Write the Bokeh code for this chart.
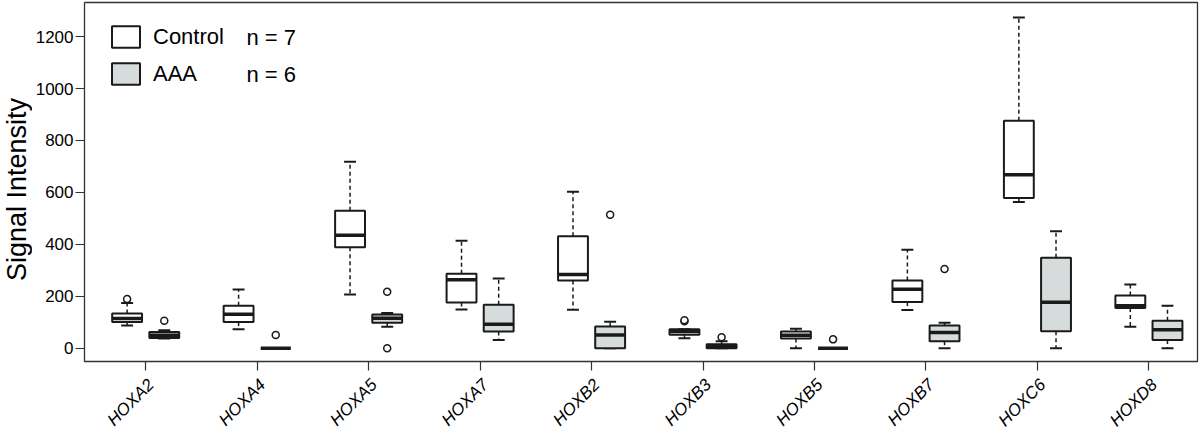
import math
from bokeh.plotting import figure
from bokeh.layouts import row, column
from bokeh.models import (FixedTicker, Range1d, Legend, LegendItem, Label, ColumnDataSource)
from bokeh.core.properties import value
from bokeh.embed import file_html
from bokeh.resources import INLINE

genes = ["HOXA2", "HOXA4", "HOXA5", "HOXA7", "HOXB2", "HOXB3", "HOXB5", "HOXB7", "HOXC6", "HOXD8"]

# Control group (n = 7): lower whisker, Q1, median, Q3, upper whisker
ctrl_low = [87, 73, 207, 149, 148, 38, 0, 147, 563, 83]
ctrl_q1 = [101, 101, 389, 176, 261, 52, 37, 178, 578, 155]
ctrl_med = [114, 131, 435, 264, 284, 64, 50, 227, 668, 163]
ctrl_q3 = [134, 163, 529, 287, 431, 73, 64, 261, 876, 203]
ctrl_high = [174, 226, 718, 414, 602, 73, 75, 379, 1273, 245]

# AAA group (n = 6)
aaa_low = [37, 0, 83, 32, 0, 0, 0, 0, 0, 0]
aaa_q1 = [39, 0, 98, 64, 0, 0, 0, 27, 65, 32]
aaa_med = [50, 0, 115, 92, 51, 8, 0, 60, 177, 71]
aaa_q3 = [62, 0, 130, 167, 84, 15, 0, 87, 348, 106]
aaa_high = [69, 0, 136, 268, 102, 27, 0, 98, 450, 163]

# Outliers
ctrl_out_gene = ["HOXA2", "HOXB3", "HOXB3"]
ctrl_out_val = [189, 104, 108]
aaa_out_gene = ["HOXA2", "HOXA4", "HOXA5", "HOXA5", "HOXB2", "HOXB3", "HOXB5", "HOXB7"]
aaa_out_val = [106, 51, 217, 0, 514, 42, 34, 305]

y_ticks = [0, 200, 400, 600, 800, 1000, 1200]

LINE = "#1a1a1a"
FONT = "Liberation Sans"
BOX_W = 0.268
CAP_W = 0.107
OFFSET = 1.0 / 6.0

TOTAL_W, TOTAL_H = 1200, 430
YLAB_W = 32
MAIN_W = TOTAL_W - YLAB_W
LEFT, RIGHT = 49, 3
TOP, FRAME_H, BOTTOM = 2, 359, 12
MAIN_H = TOP + FRAME_H + BOTTOM
XLAB_H = TOTAL_H - MAIN_H

p = figure(width=MAIN_W, height=MAIN_H, output_backend="svg", toolbar_location=None,
           x_range=Range1d(-0.549, 9.436), y_range=Range1d(-51.2, 1331.2),
           min_border_left=LEFT, min_border_right=RIGHT, min_border_top=TOP,
           min_border_bottom=BOTTOM)
p.xgrid.visible = False
p.ygrid.visible = False
p.outline_line_color = "#333333"
p.outline_line_width = 1.3


def draw_group(sign, low, q1, med, q3, high, fill):
    xs = [i + sign * OFFSET for i in range(len(genes))]
    src = ColumnDataSource(dict(x=xs, low=low, q1=q1, med=med, q3=q3, high=high,
                                xl=[x - BOX_W / 2 for x in xs], xr=[x + BOX_W / 2 for x in xs],
                                cl=[x - CAP_W / 2 for x in xs], cr=[x + CAP_W / 2 for x in xs]))
    p.segment(x0="x", y0="q3", x1="x", y1="high", source=src, line_color=LINE,
              line_width=1.5, line_dash="4 3")
    p.segment(x0="x", y0="q1", x1="x", y1="low", source=src, line_color=LINE,
              line_width=1.5, line_dash="4 3")
    p.segment(x0="cl", y0="high", x1="cr", y1="high", source=src, line_color=LINE, line_width=2)
    p.segment(x0="cl", y0="low", x1="cr", y1="low", source=src, line_color=LINE, line_width=2)
    r = p.quad(left="xl", right="xr", bottom="q1", top="q3", source=src,
               fill_color=fill, line_color=LINE, line_width=2)
    p.segment(x0="xl", y0="med", x1="xr", y1="med", source=src, line_color=LINE, line_width=3.5)
    return r


r_ctrl = draw_group(-1, ctrl_low, ctrl_q1, ctrl_med, ctrl_q3, ctrl_high, "white")
r_aaa = draw_group(1, aaa_low, aaa_q1, aaa_med, aaa_q3, aaa_high, "#d5dcdb")

p.scatter(x=[genes.index(g) - OFFSET for g in ctrl_out_gene], y=ctrl_out_val,
          marker="circle", size=7, fill_color="white", line_color=LINE, line_width=1.5)
p.scatter(x=[genes.index(g) + OFFSET for g in aaa_out_gene], y=aaa_out_val,
          marker="circle", size=7, fill_color="white", line_color=LINE, line_width=1.5)

# axes
p.xaxis.ticker = FixedTicker(ticks=list(range(len(genes))))
p.xaxis.major_label_overrides = {i: "" for i in range(len(genes))}
p.xaxis.major_label_standoff = 0
p.xaxis.axis_label_standoff = 0

p.yaxis.ticker = FixedTicker(ticks=y_ticks)
p.yaxis.major_label_text_font = FONT
p.yaxis.major_label_text_font_size = "17px"
p.yaxis.major_label_standoff = 2

for ax in (p.xaxis, p.yaxis):
    ax.axis_line_color = None
    ax.major_tick_out = 9
    ax.major_tick_in = 0
    ax.minor_tick_line_color = None
    ax.major_tick_line_color = "#333333"
    ax.major_tick_line_width = 1.2
    ax.major_label_text_color = "black"

# legend
legend = Legend(items=[LegendItem(label="Control", renderers=[r_ctrl]),
                       LegendItem(label="AAA", renderers=[r_aaa])],
                location=(24, FRAME_H - 21 - 64), orientation="vertical",
                glyph_width=35, glyph_height=27, spacing=10, padding=0, margin=0,
                label_standoff=10, label_text_font=FONT, label_text_font_size="22px",
                label_text_color="black", border_line_alpha=0, background_fill_alpha=0,
                label_height=27)
p.add_layout(legend)

for txt, yc in (("n = 7", FRAME_H - 21 - 13.5), ("n = 6", FRAME_H - 21 - 27 - 10 - 13.5)):
    p.add_layout(Label(x=162, y=yc, x_units="screen", y_units="screen", text=txt,
                       text_font=FONT, text_font_size="22px", text_baseline="middle",
                       text_color="black"))

# gene names (rotated tick labels) in a strip below the plot, sharing the x range
xlab = figure(width=MAIN_W, height=XLAB_H, output_backend="svg", toolbar_location=None,
              x_range=p.x_range, y_range=Range1d(XLAB_H, 0),
              min_border_left=LEFT, min_border_right=RIGHT, min_border_top=0,
              min_border_bottom=0, x_axis_location=None, y_axis_location=None)
xlab.xgrid.visible = False
xlab.ygrid.visible = False
xlab.outline_line_color = None
xlab.text(x=[i + 0.048 for i in range(len(genes))], y=[8.5] * len(genes), text=genes,
          angle=math.pi / 4, text_align="right", text_baseline="middle",
          text_font=value(FONT), text_font_size="17px", text_font_style="italic",
          text_color="black")

# y axis title strip
ylab = figure(width=YLAB_W, height=MAIN_H, output_backend="svg", toolbar_location=None,
              x_range=Range1d(0, YLAB_W), y_range=Range1d(MAIN_H, 0),
              min_border_left=0, min_border_right=0, min_border_top=0,
              min_border_bottom=0, x_axis_location=None, y_axis_location=None)
ylab.xgrid.visible = False
ylab.ygrid.visible = False
ylab.outline_line_color = None
ylab.text(x=[16], y=[189], text=["Signal Intensity"], angle=math.pi / 2,
          text_align="center", text_baseline="middle", text_font=value(FONT),
          text_font_size="27px", text_color="black")

layout = row(ylab, column(p, xlab))
open("out.html", "w").write(file_html(layout, INLINE))
